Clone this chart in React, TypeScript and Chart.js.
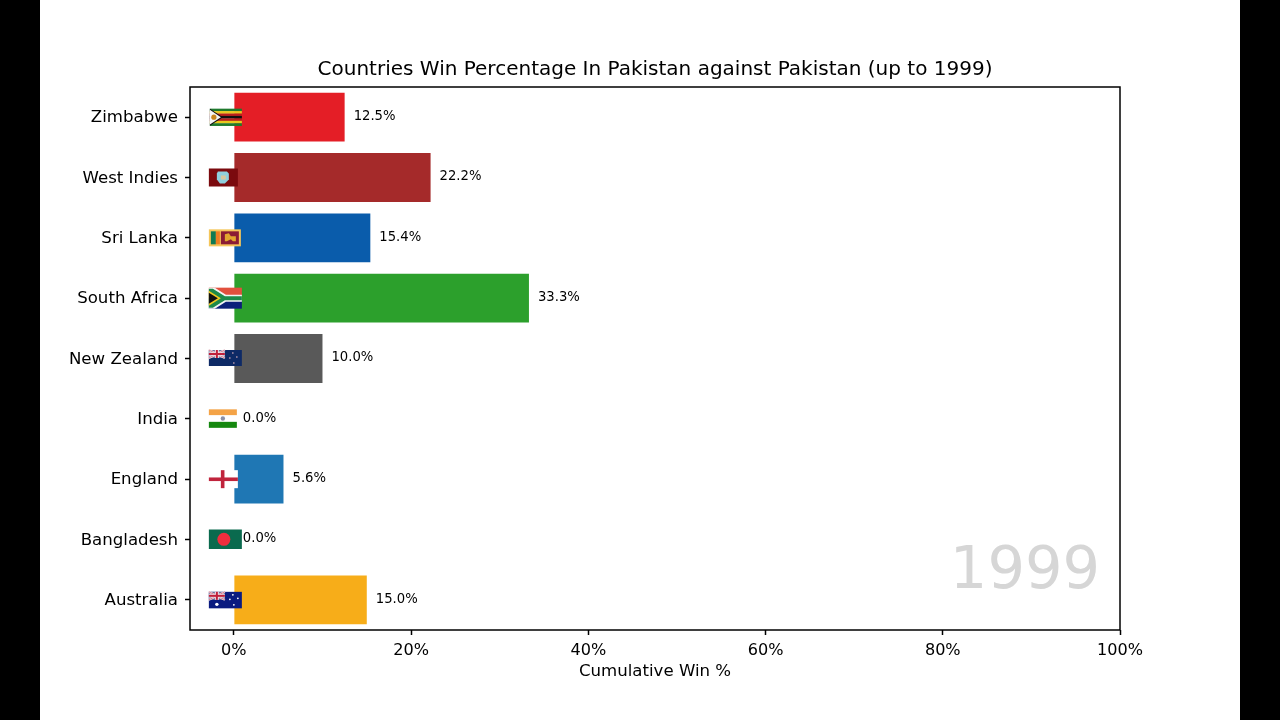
import React, { useEffect, useRef } from "react";
import { Chart, registerables } from "chart.js";

Chart.register(...registerables);

const countries = ["Zimbabwe", "West Indies", "Sri Lanka", "South Africa", "New Zealand", "India", "England", "Bangladesh", "Australia"];
const winPct = [12.5, 22.2, 15.4, 33.3, 10.0, 0.0, 5.6, 0.0, 15.0];
const barColors = ["#E41E26", "#A52A2A", "#0A5CAB", "#2CA02C", "#595959", "#1F77B4", "#1F77B4", "#1F77B4", "#F7AD19"];
const xTicks = [0, 20, 40, 60, 80, 100];
const year = "1999";
const chartTitle = "Countries Win Percentage In Pakistan against Pakistan (up to 1999)";
const xTitle = "Cumulative Win %";
const FONT = "'DejaVu Sans', sans-serif";

type Ctx = CanvasRenderingContext2D;
const rect = (c: Ctx, col: string, x: number, y: number, w: number, h: number) => { c.fillStyle = col; c.fillRect(x, y, w, h); };
const poly = (c: Ctx, col: string, pts: number[][]) => {
  c.fillStyle = col; c.beginPath();
  pts.forEach((p, i) => (i ? c.lineTo(p[0], p[1]) : c.moveTo(p[0], p[1])));
  c.closePath(); c.fill();
};
const disc = (c: Ctx, col: string, x: number, y: number, r: number) => { c.fillStyle = col; c.beginPath(); c.arc(x, y, r, 0, Math.PI * 2); c.fill(); };
const jack = (c: Ctx, x: number, y: number, w: number, h: number) => {
  rect(c, "#6A6E9A", x, y, w, h);
  c.strokeStyle = "#F2E4E8"; c.lineWidth = 2;
  c.beginPath(); c.moveTo(x, y); c.lineTo(x + w, y + h); c.moveTo(x + w, y); c.lineTo(x, y + h); c.stroke();
  c.strokeStyle = "#C8506A"; c.lineWidth = 0.7;
  c.beginPath(); c.moveTo(x, y); c.lineTo(x + w, y + h); c.moveTo(x + w, y); c.lineTo(x, y + h); c.stroke();
  rect(c, "#F2E4E8", x + w / 2 - 2, y, 4, h);
  rect(c, "#F2E4E8", x, y + h / 2 - 1.7, w, 3.4);
  rect(c, "#C0203C", x + w / 2 - 1, y, 2, h);
  rect(c, "#C0203C", x, y + h / 2 - 1, w, 2);
};
const flags: Record<string, (c: Ctx, cy: number, x0: number) => void> = {
  Zimbabwe(c, cy, x0) {
    const x = x0 - 24, y = cy - 8.5, w = 32, h = 17;
    const cols = ["#1F7A2E", "#E8C81E", "#B8201E", "#111111", "#B8201E", "#E8C81E", "#1F7A2E"];
    cols.forEach((col, i) => rect(c, col, x, y + (i * h) / 7, w, h / 7 + 0.3));
    poly(c, "#111111", [[x, y], [x + 13, y + h / 2], [x, y + h]]);
    poly(c, "#F6F6F6", [[x, y + 1.2], [x + 11, y + h / 2], [x, y + h - 1.2]]);
    disc(c, "#C8851E", x + 4, y + h / 2, 2.6);
  },
  "West Indies"(c, cy, x0) {
    rect(c, "#7B0A0E", x0 - 25, cy - 9, 29, 18);
    poly(c, "#8FD0DE", [[x0 - 16, cy - 6], [x0 - 7, cy - 6], [x0 - 5, cy - 4], [x0 - 5, cy + 2], [x0 - 9, cy + 6], [x0 - 14, cy + 6], [x0 - 17, cy + 2], [x0 - 17, cy - 4]]);
    poly(c, "#D8C8A0", [[x0 - 13, cy - 2], [x0 - 8, cy - 2], [x0 - 8, cy + 2], [x0 - 13, cy + 2]]);
  },
  "Sri Lanka"(c, cy, x0) {
    const x = x0 - 25, y = cy - 8.5;
    rect(c, "#F5C65A", x, y, 32, 17);
    rect(c, "#0F7A52", x + 2, y + 2, 5, 13);
    rect(c, "#EE7E22", x + 7, y + 2, 4, 13);
    rect(c, "#8A1C34", x + 12, y + 2, 18, 13);
    poly(c, "#E2A72E", [[x + 16, y + 5], [x + 20, y + 4], [x + 22, y + 7], [x + 27, y + 7], [x + 27, y + 12], [x + 24, y + 12], [x + 22, y + 10], [x + 18, y + 12], [x + 16, y + 12]]);
  },
  "South Africa"(c, cy, x0) {
    const x = x0 - 25, y = cy - 10.5, w = 33, h = 21;
    rect(c, "#E2503E", x, y, w, h / 2);
    rect(c, "#0B1F7A", x, y + h / 2, w, h / 2);
    poly(c, "#F4F4F4", [[x, y], [x + 6, y], [x + 17, y + 7], [x + w, y + 7], [x + w, y + 14], [x + 17, y + 14], [x + 6, y + h], [x, y + h]]);
    poly(c, "#1E8A4A", [[x, y + 1], [x + 4, y + 1], [x + 16, y + 8.5], [x + w, y + 8.5], [x + w, y + 12.5], [x + 16, y + 12.5], [x + 4, y + h - 1], [x, y + h - 1]]);
    poly(c, "#F2C81E", [[x, y + 3], [x + 12, y + h / 2], [x, y + h - 3]]);
    poly(c, "#111111", [[x, y + 5], [x + 9, y + h / 2], [x, y + h - 5]]);
  },
  "New Zealand"(c, cy, x0) {
    const x = x0 - 25, y = cy - 8.5;
    rect(c, "#0E2A66", x, y, 33, 16);
    jack(c, x, y, 16, 8);
    [[24, 3], [28, 7], [21, 8], [25, 13]].forEach((p) => disc(c, "#E8B8C0", x + p[0], y + p[1], 0.8));
  },
  India(c, cy, x0) {
    const x = x0 - 25, y = cy - 9.5;
    rect(c, "#F4A347", x, y, 28, 6);
    rect(c, "#FFFFFF", x, y + 6, 28, 7);
    rect(c, "#15880F", x, y + 12.5, 28, 6);
    disc(c, "#8A90A8", x + 14, y + 9.2, 2.2);
  },
  England(c, cy, x0) {
    const x = x0 - 25, y = cy - 9;
    rect(c, "#FFFFFF", x, y, 29, 18);
    rect(c, "#C0243C", x + 12, y, 3.6, 18);
    rect(c, "#C0243C", x, y + 7.3, 29, 3.6);
  },
  Bangladesh(c, cy, x0) {
    rect(c, "#0A6A4E", x0 - 25, cy - 10, 33, 19.5);
    disc(c, "#EE2E3E", x0 - 10, cy - 0.2, 6.5);
  },
  Australia(c, cy, x0) {
    const x = x0 - 25, y = cy - 8;
    rect(c, "#0A1B80", x, y, 33, 16.5);
    jack(c, x, y, 16, 8);
    disc(c, "#FFFFFF", x + 8, y + 12.5, 1.7);
    [[24, 3], [29, 6.5], [21, 7.5], [25, 13]].forEach((p) => disc(c, "#FFFFFF", x + p[0], y + p[1], 0.9));
  },
};

const overlay = {
  id: "overlay",
  afterDatasetsDraw(chart: any) {
    const c: Ctx = chart.ctx;
    const { x, y } = chart.scales;
    const a = chart.chartArea;
    c.save();
    c.font = `59px ${FONT}`;
    c.fillStyle = "#D6D6D6";
    c.textAlign = "right";
    c.textBaseline = "alphabetic";
    c.fillText(year, a.right - 20, a.bottom - 42);
    countries.forEach((name, i) => flags[name]?.(c, y.getPixelForValue(i), x.getPixelForValue(0)));
    c.font = `13.2px ${FONT}`;
    c.fillStyle = "#000";
    c.textAlign = "left";
    c.textBaseline = "middle";
    winPct.forEach((v, i) => c.fillText(`${v.toFixed(1)}%`, x.getPixelForValue(v) + 9, y.getPixelForValue(i) - 0.5));
    c.strokeStyle = "#000";
    c.lineWidth = 1.5;
    c.strokeRect(a.left, a.top, a.right - a.left, a.bottom - a.top);
    c.restore();
  },
};

export default function App() {
  const ref = useRef<HTMLCanvasElement>(null);
  useEffect(() => {
    document.body.style.margin = "0";
    document.body.style.background = "#fff";
    const chart = new Chart(ref.current!, {
      type: "bar",
      data: {
        labels: countries,
        datasets: [{ data: winPct, backgroundColor: barColors, barPercentage: 0.81, categoryPercentage: 1 }],
      },
      plugins: [overlay],
      options: {
        indexAxis: "y",
        animation: false,
        responsive: false,
        devicePixelRatio: 1,
        layout: { padding: { left: 0, right: 160, top: 0, bottom: 38 } },
        plugins: {
          legend: { display: false },
          tooltip: { enabled: false },
          title: {
            display: true,
            text: chartTitle,
            color: "#000",
            fullSize: false,
            font: { family: FONT, size: 20, weight: "normal" },
            padding: { top: 58, bottom: 5 },
            position: "top",
            align: "center",
          },
        },
        scales: {
          x: {
            type: "linear",
            min: -4.95,
            max: 100,
            afterBuildTicks(axis: any) { axis.ticks = xTicks.map((value) => ({ value })); },
            grid: { display: true, drawOnChartArea: false, drawTicks: true, tickLength: 5, tickColor: "#000", tickWidth: 1.5 } as any,
            border: { display: false },
            ticks: {
              color: "#000",
              font: { family: FONT, size: 16.1 },
              padding: 6,
              maxRotation: 0,
              autoSkip: false,
              callback: (v: any) => `${v}%`,
            },
            title: { display: true, text: xTitle, color: "#000", font: { family: FONT, size: 16.6 }, padding: { top: 2, bottom: 0 } },
            afterFit(axis: any) { axis.height = 52; },
          },
          y: {
            type: "category",
            grid: { display: true, offset: false, drawOnChartArea: false, tickLength: 5, tickColor: "#000", tickWidth: 1.5 } as any,
            border: { display: false },
            ticks: { color: "#000", font: { family: FONT, size: 16.6 }, padding: 7, autoSkip: false, labelOffset: 1 },
            afterFit(axis: any) { axis.width = 190; },
          },
        },
      },
    } as any);
    return () => chart.destroy();
  }, []);
  return (
    <div style={{ position: "relative", width: 1280, height: 720, background: "#fff", overflow: "hidden" }}>
      <canvas ref={ref} width={1280} height={720} style={{ position: "absolute", left: 0, top: 0, width: 1280, height: 720 }} />
      <div style={{ position: "absolute", left: 0, top: 0, width: 40, height: 720, background: "#000" }} />
      <div style={{ position: "absolute", right: 0, top: 0, width: 40, height: 720, background: "#000" }} />
    </div>
  );
}
